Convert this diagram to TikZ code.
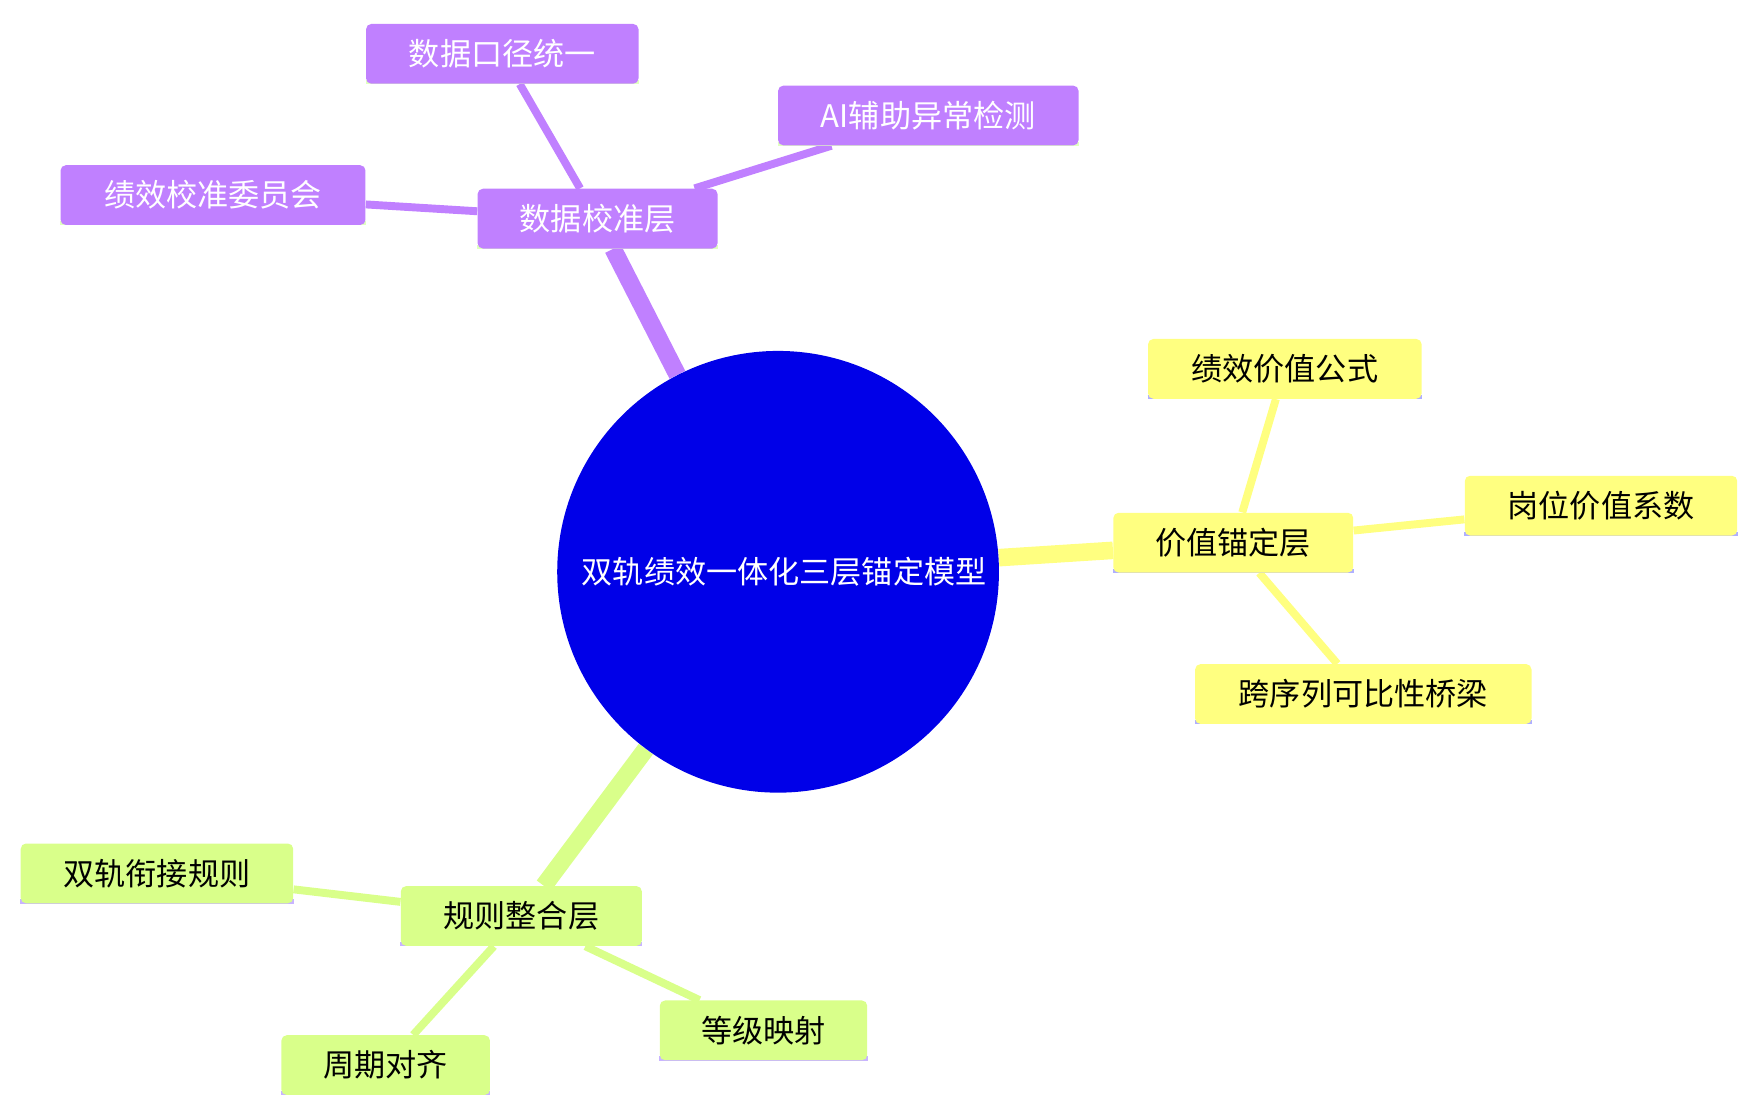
\documentclass[tikz,border=0pt]{standalone}
\usepackage{fontspec}
\setmainfont{Noto Sans CJK SC}
\usetikzlibrary{backgrounds}
\definecolor{purp}{HTML}{C080FF}
\definecolor{yell}{HTML}{FFFF80}
\definecolor{gren}{HTML}{D9FF8A}
\definecolor{lineg}{HTML}{E0FFC0}
\definecolor{liney}{HTML}{AFAFFF}
\definecolor{lineb}{HTML}{C8B4FF}
\tikzset{
  leaf/.style n args={3}{rectangle, rounded corners=3pt, fill=#1, minimum height=34pt,
    inner sep=0pt, font=\fontsize{17.7}{21}\selectfont,
    append after command={\pgfextra{\draw[#2, line width=2.4pt]
      ([yshift=1.2pt]\tikzlastnode.south west) -- ([yshift=1.2pt]\tikzlastnode.south east);}}, text=#3},
  pleaf/.style={leaf={purp}{lineg}{white}},
  yleaf/.style={leaf={yell}{liney}{black}},
  gleaf/.style={leaf={gren}{lineb}{black}},
  trunk/.style={line width=10pt},
  twig/.style={line width=4.5pt}
}
\begin{document}
\begin{tikzpicture}[x=0.02242cm, y=-0.02242cm]
    \useasboundingbox (0,0) rectangle (1560,992);
    %root
    \node[circle, fill={rgb,255:red,0;green,0;blue,232}, minimum size=394*0.02242cm, text=white,
          align=center, text width=350*0.02242cm, font=\fontsize{17.7}{24}\selectfont]
         (root) at (694,510) {双轨绩效一体化三层锚定模型};
    %data layer
    \node[pleaf, minimum width=214*0.02242cm] (data) at (533,195) {数据校准层};
    \node[pleaf, minimum width=243*0.02242cm] (unify) at (448,48) {数据口径统一};
    \node[pleaf, minimum width=268*0.02242cm] (ai) at (828,103) {AI辅助异常检测};
    \node[pleaf, minimum width=272*0.02242cm] (board) at (190,174) {绩效校准委员会};
    %value layer
    \node[yleaf, minimum width=214*0.02242cm] (value) at (1100,484) {价值锚定层};
    \node[yleaf, minimum width=244*0.02242cm] (formula) at (1146,329) {绩效价值公式};
    \node[yleaf, minimum width=243*0.02242cm] (coef) at (1428,451) {岗位价值系数};
    \node[yleaf, minimum width=300*0.02242cm] (bridge) at (1216,619) {跨序列可比性桥梁};
    %rule layer
    \node[gleaf, minimum width=215*0.02242cm] (rule) at (465,817) {规则整合层};
    \node[gleaf, minimum width=243*0.02242cm] (link) at (140,779) {双轨衔接规则};
    \node[gleaf, minimum width=186*0.02242cm] (cycle) at (344,950) {周期对齐};
    \node[gleaf, minimum width=185*0.02242cm] (grade) at (681,919) {等级映射};
    %edges
    \begin{scope}[on background layer]
    \draw[trunk, purp] (root) -- (data);
    \draw[trunk, yell] (root) -- (value);
    \draw[trunk, gren] (root) -- (rule);
    \foreach \a in {unify, ai, board} \draw[twig, purp] (data) -- (\a);
    \foreach \a in {formula, coef, bridge} \draw[twig, yell] (value) -- (\a);
    \foreach \a in {link, cycle, grade} \draw[twig, gren] (rule) -- (\a);
    \end{scope}
\end{tikzpicture}
\end{document}
